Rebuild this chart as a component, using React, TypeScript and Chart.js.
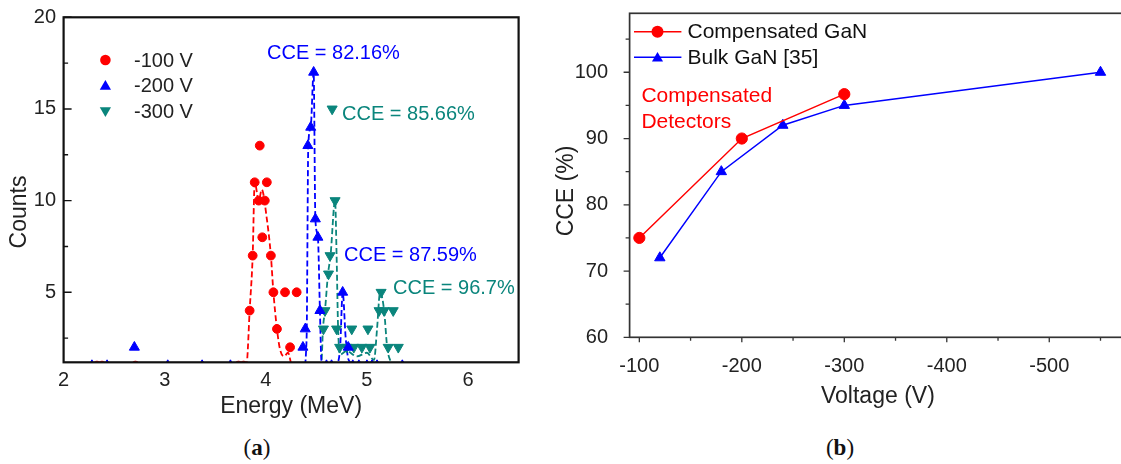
import React, { useEffect, useRef } from "react";
import { Chart, registerables } from "chart.js";

Chart.register(...registerables);

const SANS = '"Liberation Sans", Arial, Helvetica, sans-serif';
const SERIF = '"Liberation Serif", "Times New Roman", Times, serif';

const RED = "#ff0000";
const BLUE = "#0000ff";
const TEAL = "#0a857c";
const INK = "#222222";

// ---------------- Panel (a) data ----------------
const energyTicks = [2, 3, 4, 5, 6];
const countTicks = [5, 10, 15, 20];
const countMinorTicks = [2.5, 7.5, 12.5, 17.5];
const voltageLabelsA = ["-100 V", "-200 V", "-300 V"];

const energy100 = [2.33, 2.38, 2.71, 3.73, 3.78, 3.84, 3.87, 3.89, 3.93, 3.94, 3.965, 3.99, 4.01, 4.05, 4.075, 4.11, 4.19, 4.24, 4.305];
const counts100 = [1, 1, 1, 1, 1, 4, 7, 11, 10, 13, 8, 10, 11, 7, 5, 3, 5, 2, 5];
const fitEnergy100 = [3.7, 3.8, 3.815, 3.84, 3.87, 3.89, 3.93, 3.96, 4.01, 4.05, 4.075, 4.11, 4.14, 4.18, 4.22, 4.26, 4.4];
const fitCounts100 = [1, 1, 1.3, 4, 7, 11, 10, 10.6, 9, 7, 5, 3, 1.9, 1.5, 1.7, 1, 1];

const energy200 = [2.28, 2.43, 2.7, 3.03, 3.37, 3.65, 4.367, 4.39, 4.416, 4.444, 4.473, 4.49, 4.515, 4.535, 4.6, 4.65, 4.76, 4.815, 4.86, 4.92, 5.0, 5.05, 5.1, 5.35];
const counts200 = [1, 1, 2, 1, 1, 1, 2, 3, 13, 14, 17, 9, 8, 4, 1, 1, 5, 2, 1, 1, 1, 1, 1, 1];
const fitEnergy200 = [4.3, 4.385, 4.4, 4.405, 4.42, 4.444, 4.473, 4.49, 4.515, 4.535, 4.55, 4.62, 4.7, 4.735, 4.76, 4.79, 4.82, 4.9];
const fitCounts200 = [1, 1, 2, 3, 13, 14, 17, 9, 8, 4, 1.3, 1, 1.1, 2, 5, 2.5, 1.3, 1];

const energy300 = [4.57, 4.585, 4.62, 4.635, 4.656, 4.685, 4.7, 4.73, 4.8, 4.85, 4.87, 4.95, 5.01, 5.03, 5.12, 5.14, 5.17, 5.21, 5.26, 5.31];
const counts300 = [3, 4, 6, 7, 15, 10, 3, 2, 2, 3, 2, 2, 3, 2, 4, 5, 4, 2, 4, 2];
const fitEnergy300 = [4.5, 4.55, 4.565, 4.585, 4.615, 4.64, 4.685, 4.7, 4.715, 4.735, 4.8, 4.9, 5.0, 5.07, 5.1, 5.13, 5.17, 5.2, 5.23, 5.3];
const fitCounts300 = [1, 1.2, 3, 4, 6, 7, 10, 7, 3, 1.6, 1.8, 1.5, 1.7, 1.3, 3, 5, 4, 2, 1.3, 1];

const cceNotes = ["CCE = 82.16%", "CCE = 85.66%", "CCE = 87.59%", "CCE = 96.7%"];

// ---------------- Panel (b) data ----------------
const voltageTicks = [-100, -200, -300, -400, -500];
const voltageMinorTicks = [-150, -250, -350, -450, -550];
const cceTicks = [60, 70, 80, 90, 100];
const cceMinorTicks = [65, 75, 85, 95, 105];
const seriesLabelsB = ["Compensated GaN", "Bulk GaN [35]"];
const voltComp = [-100, -200, -300];
const cceComp = [75, 90, 96.7];
const voltBulk = [-120, -180, -240, -300, -550];
const cceBulk = [72, 85, 92, 95, 100];
const noteB = ["Compensated", "Detectors"];

// ---------------- helpers ----------------
const pts = (xs: number[], ys: number[]) => xs.map((x, i) => ({ x, y: ys[i] }));

function triPath(ctx: CanvasRenderingContext2D, x: number, y: number, r: number, down: boolean) {
  const s = down ? -1 : 1;
  const h = r * Math.sin((2 * Math.PI) / 3);
  ctx.beginPath();
  ctx.moveTo(x, y - s * r);
  ctx.lineTo(x + h, y + (s * r) / 2);
  ctx.lineTo(x - h, y + (s * r) / 2);
  ctx.closePath();
}

function circlePath(ctx: CanvasRenderingContext2D, x: number, y: number, r: number) {
  ctx.beginPath();
  ctx.arc(x, y, r, 0, Math.PI * 2);
}

const zeroPad = (s: any) => {
  s.paddingTop = 0;
  s.paddingBottom = 0;
  s.paddingLeft = 0;
  s.paddingRight = 0;
};

// Layout constants (pixels)
const A_W = 560, A_H = 430;
const A_LEFT = 63.6, A_RIGHT = 518.6, A_TOP = 17.3, A_BOTTOM = 362.3;
const B_X = 540, B_W = 581, B_H = 430;
const B_LEFT = 89.6, B_TOP = 13.3, B_BOTTOM = 337.3;

const decorA = {
  id: "decorA",
  afterDatasetsDraw(chart: any) {
    const { ctx, chartArea: a, scales } = chart;
    const y = scales.y;
    ctx.save();
    ctx.strokeStyle = "#111";
    ctx.lineWidth = 1.4;
    ctx.beginPath();
    countTicks.forEach((v) => {
      const p = y.getPixelForValue(v);
      ctx.moveTo(a.left, p);
      ctx.lineTo(a.left + 8, p);
    });
    countMinorTicks.forEach((v) => {
      const p = y.getPixelForValue(v);
      ctx.moveTo(a.left, p);
      ctx.lineTo(a.left + 4.5, p);
    });
    ctx.stroke();
    ctx.lineWidth = 2.2;
    ctx.strokeRect(a.left, a.top, a.right - a.left, a.bottom - a.top);

    const colors = [RED, BLUE, TEAL];
    const ly = [60, 85.5, 111.5];
    ctx.font = `20px ${SANS}`;
    ctx.textBaseline = "middle";
    ctx.textAlign = "left";
    voltageLabelsA.forEach((lab, i) => {
      ctx.fillStyle = colors[i];
      if (i === 0) circlePath(ctx, 105.4, ly[i], 5.3);
      else triPath(ctx, 105.4, ly[i] + (i === 1 ? 1 : -1), 6.5, i === 2);
      ctx.fill();
      ctx.fillStyle = INK;
      ctx.fillText(lab, 134, ly[i] + 1);
    });

    const notePos = [
      [267, 52, BLUE],
      [342, 113.5, TEAL],
      [344, 254, BLUE],
      [393, 287, TEAL],
    ] as const;
    cceNotes.forEach((t, i) => {
      ctx.fillStyle = notePos[i][2];
      ctx.fillText(t, notePos[i][0], notePos[i][1] + 1);
    });

    ctx.fillStyle = INK;
    ctx.font = `23px ${SANS}`;
    ctx.textAlign = "center";
    ctx.fillText("Energy (MeV)", (A_LEFT + A_RIGHT) / 2, 407);
    ctx.translate(19.6, 212);
    ctx.rotate(-Math.PI / 2);
    ctx.fillText("Counts", 0, 0);
    ctx.restore();
  },
};

const decorB = {
  id: "decorB",
  afterDatasetsDraw(chart: any) {
    const { ctx, chartArea: a, scales } = chart;
    const x = scales.x;
    const y = scales.y;
    ctx.save();
    ctx.strokeStyle = "#333";
    ctx.lineWidth = 1.3;
    ctx.beginPath();
    cceTicks.forEach((v) => {
      const p = y.getPixelForValue(v);
      ctx.moveTo(a.left, p);
      ctx.lineTo(a.left - 6, p);
    });
    cceMinorTicks.forEach((v) => {
      const p = y.getPixelForValue(v);
      ctx.moveTo(a.left, p);
      ctx.lineTo(a.left - 4, p);
    });
    voltageTicks.forEach((v) => {
      const p = x.getPixelForValue(v);
      ctx.moveTo(p, a.bottom);
      ctx.lineTo(p, a.bottom + 5);
    });
    voltageMinorTicks.forEach((v) => {
      const p = x.getPixelForValue(v);
      ctx.moveTo(p, a.bottom);
      ctx.lineTo(p, a.bottom + 3.5);
    });
    ctx.stroke();
    ctx.lineWidth = 1.7;
    ctx.strokeRect(a.left, a.top, a.right - a.left + 2, a.bottom - a.top);

    const colors = [RED, BLUE];
    const ly = [31.7, 57.3];
    ctx.font = `21px ${SANS}`;
    ctx.textBaseline = "middle";
    ctx.textAlign = "left";
    seriesLabelsB.forEach((lab, i) => {
      ctx.strokeStyle = colors[i];
      ctx.lineWidth = 1.5;
      ctx.beginPath();
      ctx.moveTo(94, ly[i]);
      ctx.lineTo(141.4, ly[i]);
      ctx.stroke();
      ctx.fillStyle = colors[i];
      if (i === 0) circlePath(ctx, 117.5, ly[i], 6);
      else triPath(ctx, 117.5, ly[i] + 1, 6.4, false);
      ctx.fill();
      ctx.fillStyle = "#111";
      ctx.fillText(lab, 147.5, ly[i] + 1);
    });

    ctx.fillStyle = RED;
    ctx.fillText(noteB[0], 101.4, 96.5);
    ctx.fillText(noteB[1], 101.4, 122.5);

    ctx.fillStyle = INK;
    ctx.font = `23px ${SANS}`;
    ctx.textAlign = "center";
    ctx.fillText("Voltage (V)", 337.9, 397);
    ctx.translate(27, 191);
    ctx.rotate(-Math.PI / 2);
    ctx.fillText("CCE (%)", 0, 0);
    ctx.restore();
  },
};

function markerSet(label: string, xs: number[], ys: number[], color: string, style: string, r: number, rot = 0) {
  return {
    label,
    data: pts(xs, ys),
    showLine: false,
    pointStyle: style,
    pointRotation: rot,
    pointRadius: r,
    pointBorderWidth: 1,
    pointBackgroundColor: color,
    pointBorderColor: color,
    borderColor: color,
    backgroundColor: color,
  };
}

function fitSet(xs: number[], ys: number[], color: string) {
  return {
    label: "fit",
    data: pts(xs, ys),
    showLine: true,
    borderColor: color,
    borderWidth: 1.8,
    borderDash: [6, 3],
    pointRadius: 0,
    cubicInterpolationMode: "monotone",
    fill: false,
  };
}

function configA(): any {
  return {
    type: "scatter",
    data: {
      datasets: [
        markerSet(voltageLabelsA[0], energy100, counts100, RED, "circle", 4.4),
        markerSet(voltageLabelsA[1], energy200, counts200, BLUE, "triangle", 5.8),
        markerSet(voltageLabelsA[2], energy300, counts300, TEAL, "triangle", 5.8, 180),
        fitSet(fitEnergy100, fitCounts100, RED),
        fitSet(fitEnergy200, fitCounts200, BLUE),
        fitSet(fitEnergy300, fitCounts300, TEAL),
      ],
    },
    options: {
      responsive: false,
      animation: false,
      devicePixelRatio: 1,
      layout: { autoPadding: false, padding: { left: 0, right: A_W - A_RIGHT, top: A_TOP, bottom: 0 } },
      plugins: { legend: { display: false }, tooltip: { enabled: false } },
      scales: {
        x: {
          type: "linear",
          min: 2,
          max: 6.5,
          grid: { display: false, drawTicks: false },
          border: { display: false },
          ticks: { font: { family: SANS, size: 20 }, color: INK, padding: 5.7, maxRotation: 0 },
          afterBuildTicks: (s: any) => {
            s.ticks = energyTicks.map((v) => ({ value: v }));
          },
          afterFit: (s: any) => {
            s.height = A_H - A_BOTTOM;
            zeroPad(s);
          },
        },
        y: {
          type: "linear",
          min: 1.18,
          max: 20,
          grid: { display: false, drawTicks: false },
          border: { display: false },
          ticks: { font: { family: SANS, size: 20 }, color: INK, padding: 7.6 },
          afterBuildTicks: (s: any) => {
            s.ticks = countTicks.map((v) => ({ value: v }));
          },
          afterFit: (s: any) => {
            s.width = A_LEFT;
            zeroPad(s);
          },
        },
      },
    },
    plugins: [decorA],
  };
}

function configB(): any {
  return {
    type: "scatter",
    data: {
      datasets: [
        {
          label: seriesLabelsB[0],
          data: pts(voltComp, cceComp),
          showLine: true,
          borderColor: RED,
          borderWidth: 1.5,
          pointStyle: "circle",
          pointRadius: 5.6,
          pointBorderWidth: 1,
          pointBackgroundColor: RED,
          pointBorderColor: RED,
        },
        {
          label: seriesLabelsB[1],
          data: pts(voltBulk, cceBulk),
          showLine: true,
          borderColor: BLUE,
          borderWidth: 1.5,
          pointStyle: "triangle",
          pointRadius: 6,
          pointBorderWidth: 1,
          pointBackgroundColor: BLUE,
          pointBorderColor: BLUE,
        },
      ],
    },
    options: {
      responsive: false,
      animation: false,
      devicePixelRatio: 1,
      layout: { autoPadding: false, padding: { left: 0, right: 0, top: B_TOP, bottom: 0 } },
      plugins: { legend: { display: false }, tooltip: { enabled: false } },
      scales: {
        x: {
          type: "linear",
          reverse: true,
          min: -570,
          max: -90.5,
          grid: { display: false, drawTicks: false },
          border: { display: false },
          ticks: { font: { family: SANS, size: 20 }, color: INK, padding: 16.7, maxRotation: 0 },
          afterBuildTicks: (s: any) => {
            s.ticks = voltageTicks.map((v) => ({ value: v }));
          },
          afterFit: (s: any) => {
            s.height = B_H - B_BOTTOM;
            zeroPad(s);
          },
        },
        y: {
          type: "linear",
          min: 60,
          max: 108.9,
          grid: { display: false, drawTicks: false },
          border: { display: false },
          ticks: { font: { family: SANS, size: 20 }, color: INK, padding: 21.6 },
          afterBuildTicks: (s: any) => {
            s.ticks = cceTicks.map((v) => ({ value: v }));
          },
          afterFit: (s: any) => {
            s.width = B_LEFT;
            zeroPad(s);
          },
        },
      },
    },
    plugins: [decorB],
  };
}

const panelLabelStyle: React.CSSProperties = {
  position: "absolute",
  top: 447,
  transform: "translate(-50%, -50%)",
  fontFamily: SERIF,
  fontSize: 23,
  lineHeight: 1,
  color: "#111",
  whiteSpace: "nowrap",
};

export default function App() {
  const refA = useRef<HTMLCanvasElement>(null);
  const refB = useRef<HTMLCanvasElement>(null);

  useEffect(() => {
    const a = new Chart(refA.current as HTMLCanvasElement, configA());
    const b = new Chart(refB.current as HTMLCanvasElement, configB());
    return () => {
      a.destroy();
      b.destroy();
    };
  }, []);

  return (
    <div style={{ position: "absolute", left: 0, top: 0, width: 1121, height: 464, background: "#fff", overflow: "hidden" }}>
      <canvas ref={refA} width={A_W} height={A_H} style={{ position: "absolute", left: 0, top: 0, width: A_W, height: A_H }} />
      <canvas ref={refB} width={B_W} height={B_H} style={{ position: "absolute", left: B_X, top: 0, width: B_W, height: B_H }} />
      <div style={{ ...panelLabelStyle, left: 257 }}>
        (<b>a</b>)
      </div>
      <div style={{ ...panelLabelStyle, left: 840 }}>
        (<b>b</b>)
      </div>
    </div>
  );
}
